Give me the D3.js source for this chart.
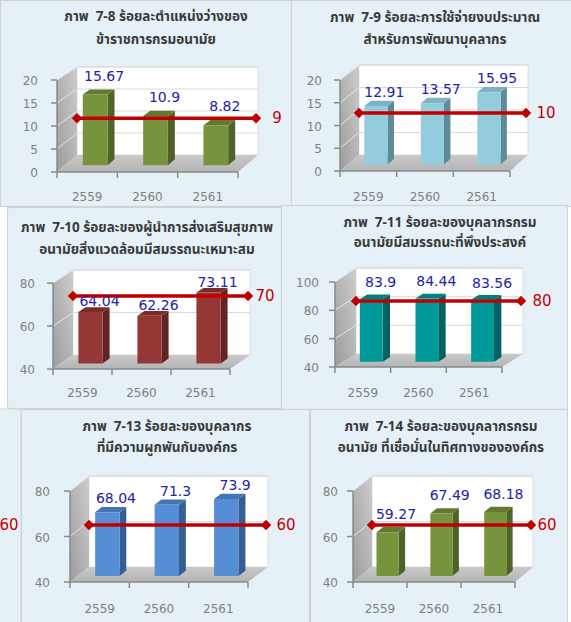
<!DOCTYPE html>
<html>
<head>
<meta charset="utf-8">
<script src="https://cdn.jsdelivr.net/npm/d3@7"></script>
<style>
  html, body { margin: 0; padding: 0; background: #ffffff; }
  svg { display: block; }
  text { white-space: pre; }
</style>
</head>
<body>
<svg id="chart" width="571" height="622"></svg>
<script>
// ---- data ----
const categories = ["2559", "2560", "2561"];

const titles = [
  ["ภาพ  7-8 ร้อยละตำแหน่งว่างของ", "ข้าราชการกรมอนามัย"],
  ["ภาพ  7-9 ร้อยละการใช้จ่ายงบประมาณ", "สำหรับการพัฒนาบุคลากร"],
  ["ภาพ  7-10 ร้อยละของผู้นำการส่งเสริมสุขภาพ", "อนามัยสิ่งแวดล้อมมีสมรรถนะเหมาะสม"],
  ["ภาพ  7-11 ร้อยละของบุคลากรกรม", "อนามัยมีสมรรถนะที่พึงประสงค์"],
  ["ภาพ  7-13 ร้อยละของบุคลากร", "ที่มีความผูกพันกับองค์กร"],
  ["ภาพ  7-14 ร้อยละของบุคลากรกรม", "อนามัย ที่เชื่อมั่นในทิศทางขององค์กร"]
];

const values78  = [15.67, 10.9, 8.82];
const values79  = [12.91, 13.57, 15.95];
const values710 = [64.04, 62.26, 73.11];
const values711 = [83.9, 84.44, 83.56];
const values713 = [68.04, 71.3, 73.9];
const values714 = [59.27, 67.49, 68.18];
const seriesValues = [values78, values79, values710, values711, values713, values714];

const targets = [9, 10, 70, 80, 60, 60];
const sideTargets = [60];   // target label of the chart partly covered at the left

const ticks0to20  = [0, 5, 10, 15, 20];
const ticks40to80 = [40, 60, 80];
const ticks40to100 = [40, 60, 80, 100];
const yTicks = [ticks0to20, ticks0to20, ticks40to80, ticks40to100, ticks40to80, ticks40to80];

// ---- styling ----
const barColors = [
  { front: "#77933c", top: "#62792f", side: "#4f6228" },
  { front: "#93cddd", top: "#7db3c2", side: "#5e8b97" },
  { front: "#953735", top: "#7b2c2a", side: "#632523" },
  { front: "#009999", top: "#007f7f", side: "#006464" },
  { front: "#558ed5", top: "#4576b3", side: "#335f94" },
  { front: "#77933c", top: "#62792f", side: "#4f6228" }
];

// geometry of each panel: frame box, front and back planes of the 3-D plot box
const layout = [
  { box: [0, 0, 291, 206], title: [156, 17, 40],
    front: { x0: 57, x1: 238, yb: 172, yt: 80 }, back: { x0: 77, x1: 258, yb: 155, yt: 67 },
    tickRight: 38, catY: 197, targetDepth: 0.81, labelGap: 10, targetLabelX: 277 },
  { box: [291, 0, 282, 206], title: [435, 18, 40],
    front: { x0: 340, x1: 510, yb: 171, yt: 80 }, back: { x0: 359, x1: 528, yb: 155, yt: 65 },
    tickRight: 322, catY: 197, targetDepth: 0.81, labelGap: 5, targetLabelX: 546 },
  { box: [7, 207, 275, 201], title: [147, 228, 250],
    front: { x0: 53, x1: 230, yb: 369, yt: 283 }, back: { x0: 73, x1: 250, yb: 355, yt: 270 },
    tickRight: 35, catY: 393, targetDepth: 0.64, labelGap: 3, targetLabelX: 265 },
  { box: [281, 205, 286, 204], title: [440, 223, 243],
    front: { x0: 335, x1: 502, yb: 367, yt: 282 }, back: { x0: 356, x1: 523, yb: 354, yt: 268 },
    tickRight: 319, catY: 393, targetDepth: 0.68, labelGap: 9, targetLabelX: 542 },
  { box: [21, 409, 288, 220], title: [167, 427, 448],
    front: { x0: 70, x1: 248, yb: 582, yt: 491 }, back: { x0: 89, x1: 268, yb: 567, yt: 476 },
    tickRight: 50, catY: 609, targetDepth: 0.77, labelGap: 5, targetLabelX: 286 },
  { box: [310, 409, 257, 220], title: [441, 427, 448],
    front: { x0: 353, x1: 515, yb: 582, yt: 491 }, back: { x0: 372, x1: 533, yb: 567, yt: 476 },
    tickRight: 338, catY: 609, targetDepth: 0.77, labelGap: 9, targetLabelX: 547 }
];

const PANEL_FILL = "#e5f1f6";
const PANEL_STROKE = "#d3d3d3";
const TITLE_FONT = "Tahoma, 'Leelawadee UI', 'Noto Sans Thai', 'Noto Sans Thai UI', Loma, Garuda, 'Noto Sans', sans-serif";
const NUM_FONT = "'DejaVu Sans', Verdana, sans-serif";
const BAR_WIDTH = 0.41;     // share of a category band
const BAR_D0 = 0.4, BAR_D1 = 0.75;   // depth of bar front and back faces

const svg = d3.select("#chart");
const defs = svg.append("defs");

const wallGrad = defs.append("linearGradient").attr("id", "sideWall")
  .attr("x1", 0).attr("y1", 1).attr("x2", 1).attr("y2", 0);
wallGrad.append("stop").attr("offset", 0).attr("stop-color", "#9c9c9c");
wallGrad.append("stop").attr("offset", 1).attr("stop-color", "#cdcdcd");

const floorGrad = defs.append("linearGradient").attr("id", "floor")
  .attr("x1", 0).attr("y1", 1).attr("x2", 0).attr("y2", 0);
floorGrad.append("stop").attr("offset", 0).attr("stop-color", "#b4b4b4");
floorGrad.append("stop").attr("offset", 1).attr("stop-color", "#c9c9c9");

const poly = pts => "M" + pts.map(p => p[0].toFixed(2) + "," + p[1].toFixed(2)).join("L") + "Z";

// chart partly hidden behind the lower-left panel
svg.append("rect")
  .attr("x", -20).attr("y", 409).attr("width", 41).attr("height", 230)
  .attr("fill", PANEL_FILL).attr("stroke", PANEL_STROKE);
svg.selectAll("text.sideTarget").data(sideTargets).join("text")
  .attr("class", "sideTarget")
  .attr("x", 9).attr("y", 525)
  .attr("text-anchor", "middle").attr("dominant-baseline", "central")
  .attr("font-family", NUM_FONT).attr("font-size", 15).attr("fill", "#c00000")
  .text(d => d);

function drawPanel(i) {
  const L = layout[i];
  const ticks = yTicks[i];
  const values = seriesValues[i];
  const colors = barColors[i];
  const dom = [ticks[0], ticks[ticks.length - 1]];
  const g = svg.append("g");

  const yF = d3.scaleLinear().domain(dom).range([L.front.yb, L.front.yt]);
  const yB = d3.scaleLinear().domain(dom).range([L.back.yb, L.back.yt]);
  const xF = d3.scaleLinear().domain([0, 1]).range([L.front.x0, L.front.x1]);
  const xB = d3.scaleLinear().domain([0, 1]).range([L.back.x0, L.back.x1]);
  const band = d3.scaleBand().domain(categories).range([0, 1]);
  // (u across, v value, d depth 0 = front ... 1 = back) -> screen point
  const P = (u, v, d) => [xF(u) * (1 - d) + xB(u) * d, yF(v) * (1 - d) + yB(v) * d];

  const [bx, by, bw, bh] = L.box;
  g.append("rect").attr("x", bx + 0.5).attr("y", by + 0.5).attr("width", bw).attr("height", bh)
    .attr("fill", PANEL_FILL).attr("stroke", PANEL_STROKE).attr("stroke-width", 1.2);

  // title
  g.selectAll("text.title").data(titles[i]).join("text")
    .attr("class", "title")
    .attr("x", L.title[0]).attr("y", (d, k) => L.title[1 + k])
    .attr("text-anchor", "middle").attr("dominant-baseline", "central")
    .attr("font-family", TITLE_FONT).attr("font-size", 13.5).attr("font-weight", "bold")
    .attr("fill", "#3a3a3a")
    .text(d => d);

  const vMin = dom[0], vMax = dom[1];

  // walls and floor
  g.append("path").attr("d", poly([P(0, vMin, 1), P(1, vMin, 1), P(1, vMax, 1), P(0, vMax, 1)]))
    .attr("fill", "#ffffff").attr("stroke", "#d9d9d9").attr("stroke-width", 0.8);
  g.append("path").attr("d", poly([P(0, vMin, 0), P(0, vMax, 0), P(0, vMax, 1), P(0, vMin, 1)]))
    .attr("fill", "url(#sideWall)");
  g.append("path").attr("d", poly([P(0, vMin, 0), P(1, vMin, 0), P(1, vMin, 1), P(0, vMin, 1)]))
    .attr("fill", "url(#floor)");

  // gridlines: back wall and side wall
  const inner = ticks.filter(t => t > vMin);
  g.selectAll("line.gridBack").data(inner).join("line")
    .attr("class", "gridBack")
    .attr("x1", t => P(0, t, 1)[0]).attr("y1", t => P(0, t, 1)[1])
    .attr("x2", t => P(1, t, 1)[0]).attr("y2", t => P(1, t, 1)[1])
    .attr("stroke", "#d9d9d9").attr("stroke-width", 1);
  g.selectAll("line.gridSide").data(inner).join("line")
    .attr("class", "gridSide")
    .attr("x1", t => P(0, t, 0)[0]).attr("y1", t => P(0, t, 0)[1])
    .attr("x2", t => P(0, t, 1)[0]).attr("y2", t => P(0, t, 1)[1])
    .attr("stroke", "#e6e6e6").attr("stroke-width", 1);

  // axes
  const axisColor = "#8a8a8a";
  g.append("line")
    .attr("x1", P(0, vMin, 0)[0]).attr("y1", P(0, vMin, 0)[1])
    .attr("x2", P(0, vMax, 0)[0]).attr("y2", P(0, vMax, 0)[1])
    .attr("stroke", axisColor).attr("stroke-width", 1.5);
  g.append("line")
    .attr("x1", P(0, vMin, 0)[0]).attr("y1", P(0, vMin, 0)[1])
    .attr("x2", P(1, vMin, 0)[0]).attr("y2", P(1, vMin, 0)[1])
    .attr("stroke", axisColor).attr("stroke-width", 1.5);
  g.selectAll("line.yTick").data(ticks).join("line")
    .attr("class", "yTick")
    .attr("x1", t => P(0, t, 0)[0] - 6).attr("x2", t => P(0, t, 0)[0])
    .attr("y1", t => P(0, t, 0)[1]).attr("y2", t => P(0, t, 0)[1])
    .attr("stroke", axisColor).attr("stroke-width", 1.5);
  const edges = categories.map(c => band(c)).concat([1]);
  g.selectAll("line.xTick").data(edges).join("line")
    .attr("class", "xTick")
    .attr("x1", u => P(u, vMin, 0)[0]).attr("x2", u => P(u, vMin, 0)[0])
    .attr("y1", u => P(u, vMin, 0)[1]).attr("y2", u => P(u, vMin, 0)[1] + 6)
    .attr("stroke", axisColor).attr("stroke-width", 1.5);

  g.selectAll("text.yLabel").data(ticks).join("text")
    .attr("class", "yLabel")
    .attr("x", L.tickRight).attr("y", t => P(0, t, 0)[1] + 1)
    .attr("text-anchor", "end").attr("dominant-baseline", "central")
    .attr("font-family", NUM_FONT).attr("font-size", 12).attr("fill", "#7f7f7f")
    .text(t => t);
  g.selectAll("text.xLabel").data(categories).join("text")
    .attr("class", "xLabel")
    .attr("x", c => P(band(c) + band.bandwidth() / 2, vMin, 0)[0]).attr("y", L.catY)
    .attr("text-anchor", "middle").attr("dominant-baseline", "central")
    .attr("font-family", NUM_FONT).attr("font-size", 12).attr("fill", "#7f7f7f")
    .text(c => c);

  // 3-D columns
  const bars = categories.map((c, j) => {
    const u0 = band(c) + band.bandwidth() * (1 - BAR_WIDTH) / 2;
    return { c, v: values[j], u0, u1: u0 + band.bandwidth() * BAR_WIDTH, uc: band(c) + band.bandwidth() / 2 };
  });
  const barG = g.selectAll("g.bar").data(bars).join("g").attr("class", "bar");
  barG.append("path")
    .attr("d", b => poly([P(b.u1, vMin, BAR_D0), P(b.u1, vMin, BAR_D1), P(b.u1, b.v, BAR_D1), P(b.u1, b.v, BAR_D0)]))
    .attr("fill", colors.side);
  barG.append("path")
    .attr("d", b => poly([P(b.u0, b.v, BAR_D0), P(b.u1, b.v, BAR_D0), P(b.u1, b.v, BAR_D1), P(b.u0, b.v, BAR_D1)]))
    .attr("fill", colors.top);
  barG.append("path")
    .attr("d", b => poly([P(b.u0, vMin, BAR_D0), P(b.u1, vMin, BAR_D0), P(b.u1, b.v, BAR_D0), P(b.u0, b.v, BAR_D0)]))
    .attr("fill", colors.front);

  // target line with diamond ends
  const t = targets[i];
  const ty = P(0, t, L.targetDepth)[1];
  const tx0 = P(0, t, 1)[0], tx1 = P(1, t, 1)[0] - 2;
  g.append("line").attr("x1", tx0).attr("x2", tx1).attr("y1", ty).attr("y2", ty)
    .attr("stroke", "#c00000").attr("stroke-width", 3.4);
  g.selectAll("path.diamond").data([tx0, tx1]).join("path")
    .attr("class", "diamond")
    .attr("transform", x => `translate(${x},${ty})`)
    .attr("d", d3.symbol(d3.symbolDiamond2, 70)())
    .attr("fill", "#c00000");
  g.append("text")
    .attr("x", L.targetLabelX).attr("y", ty)
    .attr("text-anchor", "middle").attr("dominant-baseline", "central")
    .attr("font-family", NUM_FONT).attr("font-size", 15).attr("fill", "#c00000")
    .text(t);

  // value labels
  g.selectAll("text.value").data(bars).join("text")
    .attr("class", "value")
    .attr("x", b => P(b.uc, b.v, 0.85)[0])
    .attr("y", b => P(b.uc, b.v, 1)[1] - L.labelGap)
    .attr("text-anchor", "middle").attr("dominant-baseline", "central")
    .attr("font-family", NUM_FONT).attr("font-size", 14).attr("fill", "#2323a8")
    .text(b => b.v);
}

layout.forEach((_, i) => drawPanel(i));
</script>
</body>
</html>
